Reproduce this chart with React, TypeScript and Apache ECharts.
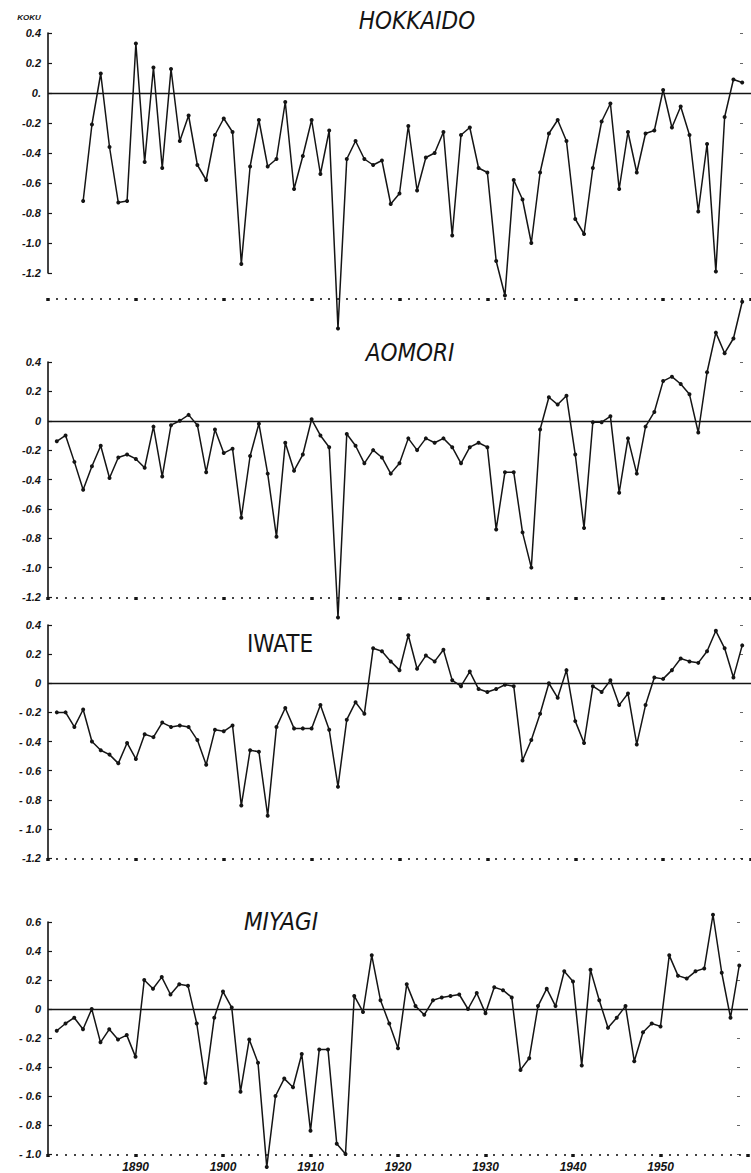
import React, { useEffect, useRef } from "react";
import * as echarts from "echarts";

const years = [
  1881, 1882, 1883, 1884, 1885, 1886, 1887, 1888, 1889,
  1890, 1891, 1892, 1893, 1894, 1895, 1896, 1897, 1898, 1899,
  1900, 1901, 1902, 1903, 1904, 1905, 1906, 1907, 1908, 1909,
  1910, 1911, 1912, 1913, 1914, 1915, 1916, 1917, 1918, 1919,
  1920, 1921, 1922, 1923, 1924, 1925, 1926, 1927, 1928, 1929,
  1930, 1931, 1932, 1933, 1934, 1935, 1936, 1937, 1938, 1939,
  1940, 1941, 1942, 1943, 1944, 1945, 1946, 1947, 1948, 1949,
  1950, 1951, 1952, 1953, 1954, 1955, 1956, 1957, 1958, 1959,
];

const hokkaido = [
  null, null, null, -0.72, -0.21, 0.13, -0.36, -0.73, -0.72,
  0.33, -0.46, 0.17, -0.5, 0.16, -0.32, -0.15, -0.48, -0.58, -0.28,
  -0.17, -0.26, -1.14, -0.49, -0.18, -0.49, -0.44, -0.06, -0.64, -0.42,
  -0.18, -0.54, -0.25, -1.57, -0.44, -0.32, -0.44, -0.48, -0.45, -0.74,
  -0.67, -0.22, -0.65, -0.43, -0.4, -0.26, -0.95, -0.28, -0.23, -0.5,
  -0.53, -1.12, -1.35, -0.58, -0.71, -1.0, -0.53, -0.27, -0.18, -0.32,
  -0.84, -0.94, -0.5, -0.19, -0.07, -0.64, -0.26, -0.53, -0.27, -0.25,
  0.02, -0.23, -0.09, -0.28, -0.79, -0.34, -1.19, -0.16, 0.09, 0.07,
];

const aomori = [
  -0.14, -0.1, -0.28, -0.47, -0.31, -0.17, -0.39, -0.25, -0.23,
  -0.26, -0.32, -0.04, -0.38, -0.03, 0.0, 0.04, -0.03, -0.35, -0.06,
  -0.22, -0.19, -0.66, -0.24, -0.02, -0.36, -0.79, -0.15, -0.34, -0.23,
  0.01, -0.1, -0.18, -1.34, -0.09, -0.17, -0.29, -0.2, -0.25, -0.36,
  -0.29, -0.12, -0.2, -0.12, -0.15, -0.12, -0.18, -0.29, -0.18, -0.15,
  -0.18, -0.74, -0.35, -0.35, -0.76, -1.0, -0.06, 0.16, 0.11, 0.17,
  -0.23, -0.73, -0.01, -0.01, 0.03, -0.49, -0.12, -0.36, -0.04, 0.06,
  0.27, 0.3, 0.25, 0.18, -0.08, 0.33, 0.6, 0.46, 0.56, 0.81,
];

const iwate = [
  -0.2, -0.2, -0.3, -0.18, -0.4, -0.46, -0.49, -0.55, -0.41,
  -0.52, -0.35, -0.37, -0.27, -0.3, -0.29, -0.3, -0.39, -0.56, -0.32,
  -0.33, -0.29, -0.84, -0.46, -0.47, -0.91, -0.3, -0.17, -0.31, -0.31,
  -0.31, -0.15, -0.32, -0.71, -0.25, -0.13, -0.21, 0.24, 0.22, 0.15,
  0.09, 0.33, 0.1, 0.19, 0.15, 0.23, 0.02, -0.02, 0.08, -0.04,
  -0.06, -0.04, -0.01, -0.02, -0.53, -0.39, -0.21, 0.0, -0.1, 0.09,
  -0.26, -0.41, -0.02, -0.06, 0.02, -0.15, -0.07, -0.42, -0.15, 0.04,
  0.03, 0.09, 0.17, 0.15, 0.14, 0.22, 0.36, 0.24, 0.04, 0.26,
];

const miyagi = [
  -0.15, -0.1, -0.06, -0.14, 0.0, -0.23, -0.14, -0.21, -0.18,
  -0.33, 0.2, 0.14, 0.22, 0.1, 0.17, 0.16, -0.1, -0.51, -0.06,
  0.12, 0.01, -0.57, -0.21, -0.37, -1.09, -0.6, -0.48, -0.54, -0.31,
  -0.84, -0.28, -0.28, -0.93, -1.0, 0.09, -0.02, 0.37, 0.06, -0.1,
  -0.27, 0.17, 0.02, -0.04, 0.06, 0.08, 0.09, 0.1, 0.0, 0.11,
  -0.03, 0.15, 0.13, 0.08, -0.42, -0.34, 0.02, 0.14, 0.02, 0.26,
  0.19, -0.39, 0.27, 0.06, -0.13, -0.06, 0.02, -0.36, -0.16, -0.1,
  -0.12, 0.37, 0.23, 0.21, 0.26, 0.28, 0.65, 0.25, -0.06, 0.3,
];

const hokkaidoTicks = ["-1.2", "-1.0", "-0.8", "-0.6", "-0.4", "-0.2", "0.", "0.2", "0.4"];
const aomoriTicks = ["-1.2", "-1.0", "-0.8", "-0.6", "-0.4", "-0.2", "0", "0.2", "0.4"];
const iwateTicks = ["-1.2", "- 1.0", "- 0.8", "- 0.6", "- 0.4", "- 0.2", "0", "0.2", "0.4"];
const miyagiTicks = ["- 1.0", "- 0.8", "- 0.6", "- 0.4", "- 0.2", "0", "0.2", "0.4", "0.6"];
const decadeLabels = ["1890", "1900", "1910", "1920", "1930", "1940", "1950"];
const panelNames = ["HOKKAIDO", "AOMORI", "IWATE", "MIYAGI"];
const unitLabel = "KOKU";

const INK = "#141414";
const GRID_LEFT = 48;
const GRID_WIDTH = 710;

const panels = [
  { name: panelNames[0], values: hokkaido, ticks: hokkaidoTicks, min: -1.2, max: 0.4, top: 33, height: 240, xOffset: 25, tx: 417, ty: 21, italic: true },
  { name: panelNames[1], values: aomori, ticks: aomoriTicks, min: -1.2, max: 0.4, top: 362, height: 235, xOffset: 0, tx: 410, ty: 353, italic: true },
  { name: panelNames[2], values: iwate, ticks: iwateTicks, min: -1.2, max: 0.4, top: 625, height: 233, xOffset: 0, tx: 280, ty: 644, italic: false },
  { name: panelNames[3], values: miyagi, ticks: miyagiTicks, min: -1.0, max: 0.6, top: 922, height: 232, xOffset: 0, tx: 281, ty: 922, italic: true },
];

const TITLE_FONT = "'Liberation Sans Narrow', 'DejaVu Sans Condensed', 'Liberation Sans', sans-serif";
const LABEL_FONT = "'Liberation Sans', 'DejaVu Sans', sans-serif";

export default function App() {
  const ref = useRef<HTMLDivElement>(null);

  useEffect(() => {
    if (!ref.current) return;
    const chart = echarts.init(ref.current, undefined, { renderer: "svg" });

    const grid = panels.map((p) => ({ left: GRID_LEFT, width: GRID_WIDTH, top: p.top, height: p.height }));

    const xAxis = panels.map((p, i) => ({
      type: "value",
      gridIndex: i,
      min: 1880,
      max: 1960,
      interval: 10,
      offset: p.xOffset,
      axisLine: { show: false, onZero: false },
      axisTick: { show: true, length: 3, lineStyle: { color: INK, width: 3.5 } },
      minorTick: { show: true, splitNumber: 10, length: 2, lineStyle: { color: INK, width: 1.6 } },
      splitLine: { show: false },
      axisLabel: {
        show: i === 3,
        margin: 7,
        fontStyle: "italic",
        fontWeight: "bold",
        fontSize: 12,
        fontFamily: LABEL_FONT,
        color: INK,
        formatter: (v: number) => {
          const k = Math.round((v - 1890) / 10);
          return k >= 0 && k < decadeLabels.length && Math.abs(v - (1890 + k * 10)) < 0.01 ? decadeLabels[k] : "";
        },
      },
    }));

    const leftY = panels.map((p, i) => ({
      type: "value",
      gridIndex: i,
      min: p.min,
      max: p.max,
      interval: 0.2,
      position: "left",
      axisLine: { show: true, onZero: false, lineStyle: { color: INK, width: 1.6 } },
      axisTick: { show: true, inside: true, length: 4, lineStyle: { color: INK, width: 1.2 } },
      splitLine: { show: false },
      axisLabel: {
        margin: 7,
        fontStyle: "italic",
        fontWeight: "bold",
        fontSize: 11,
        fontFamily: LABEL_FONT,
        color: INK,
        formatter: (v: number) => p.ticks[Math.round((v - p.min) / 0.2)] ?? "",
      },
    }));

    const rightY = panels.map((p, i) => ({
      type: "value",
      gridIndex: i,
      min: p.min,
      max: p.max,
      interval: 0.2,
      position: "right",
      offset: -11,
      axisLine: { show: false, onZero: false },
      axisTick: { show: true, length: 3, lineStyle: { color: "#666", width: 1 } },
      axisLabel: { show: false },
      splitLine: { show: false },
    }));

    const series = panels.map((p, i) => ({
      type: "line",
      name: p.name,
      xAxisIndex: i,
      yAxisIndex: i,
      clip: false,
      symbol: "circle",
      symbolSize: 4,
      lineStyle: { color: INK, width: 1.5 },
      itemStyle: { color: INK },
      data: years
        .map((y, k) => [y, p.values[k]])
        .filter((d) => d[1] !== null && d[1] !== undefined),
      markLine: {
        silent: true,
        symbol: ["none", "none"],
        label: { show: false },
        lineStyle: { color: INK, width: 1.3, type: "solid" },
        data: [{ yAxis: 0 }],
      },
    }));

    const graphic = [
      ...panels.map((p) => ({
        type: "text",
        x: p.tx,
        y: p.ty,
        style: {
          text: p.name,
          fill: INK,
          fontSize: 24,
          fontStyle: p.italic ? "italic" : "normal",
          fontWeight: "normal",
          fontFamily: TITLE_FONT,
          textAlign: "center",
          textVerticalAlign: "middle",
        },
      })),
      {
        type: "text",
        x: 29,
        y: 17,
        style: {
          text: unitLabel,
          fill: INK,
          fontSize: 8,
          fontStyle: "italic",
          fontWeight: "bold",
          fontFamily: LABEL_FONT,
          textAlign: "center",
          textVerticalAlign: "middle",
        },
      },
    ];

    chart.setOption({
      animation: false,
      backgroundColor: "#ffffff",
      grid,
      xAxis,
      yAxis: [...leftY, ...rightY],
      series,
      graphic,
    });

    return () => chart.dispose();
  }, []);

  return (
    <div
      ref={ref}
      style={{ position: "absolute", left: 0, top: 0, width: 751, height: 1173, background: "#fff" }}
    />
  );
}
